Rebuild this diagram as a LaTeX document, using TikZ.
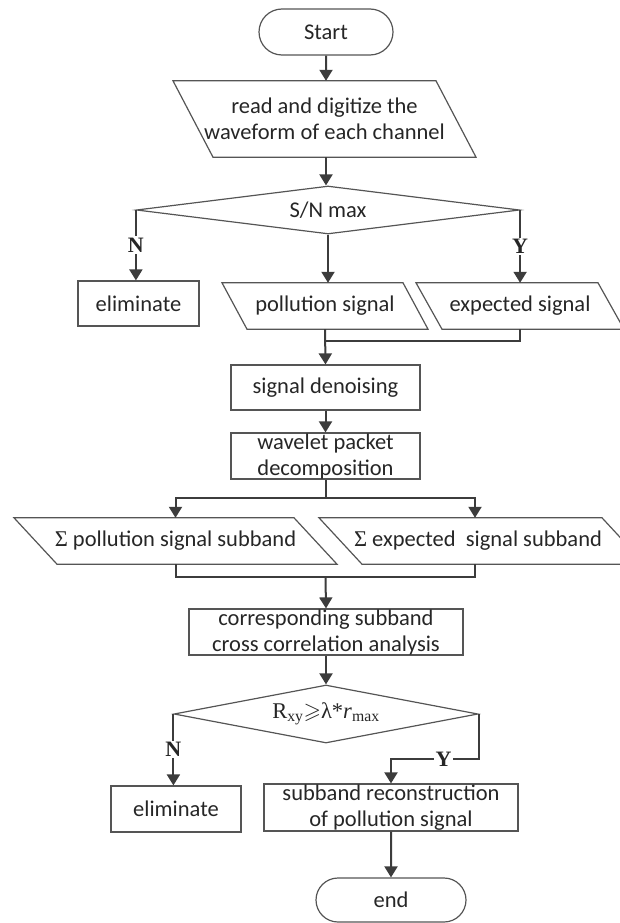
\documentclass[tikz,border=0pt]{standalone}
\usepackage{fontspec}
\usepackage{amssymb}
\setmainfont{Carlito}
\newfontfamily\tnr{Liberation Serif}
\usetikzlibrary{shapes.geometric,shapes.misc,arrows.meta,calc}
\definecolor{boxgray}{HTML}{555555}
\definecolor{linegray}{HTML}{3C3C3C}

\begin{document}
\begin{tikzpicture}[x=1pt, y=-1pt, >={Triangle[width=13pt,length=11pt]},
    font=\fontsize{22.5}{26}\selectfont, text=black!85,
    box line/.style={draw=boxgray, line width=1.2pt},
    box/.style={rectangle, box line, minimum height=46pt, align=center, inner sep=0pt},
    term/.style={rounded rectangle, box line, minimum height=46pt, inner sep=0pt},
    io/.style 2 args={rectangle, inner sep=0pt, minimum height=46pt, align=center,
      append after command={\pgfextra{\let\ionode\tikzlastnode
        \draw[box line] ($(\ionode.north)+(-#1-#2,0)$) -- ($(\ionode.north)+(#1,0)$)
          -- ($(\ionode.south)+(#1+#2,0)$) -- ($(\ionode.south)+(-#1,0)$) -- cycle;}}},
    test/.style={diamond, box line, inner sep=0pt},
    flow/.style={draw=linegray, line width=2pt},
    yn/.style={fill=white, inner sep=1.5pt, font=\tnr\bfseries\fontsize{22}{22}\selectfont}]
    \useasboundingbox (0,0) rectangle (619,923);
    \node[term, minimum width=134pt] (start) at (326,32) {Start};
    \node[io={111.5}{40}, minimum height=76pt] (read) at (324.5,119)
      {read and digitize the\\waveform of each channel};
    \node[test, minimum width=383pt, minimum height=48pt, aspect=8] (snr) at (328,210) {S/N max};
    \node[box, minimum width=121pt, minimum height=45pt] (elim) at (138.5,303.5) {eliminate};
    \node[io={78}{25}] (pol) at (325,306) {pollution signal};
    \node[io={78}{26}] (exp) at (520,306) {expected signal};
    \node[box, minimum width=189pt, minimum height=45pt] (den) at (325.5,387.5) {signal denoising};
    \node[box, minimum width=189pt] (wpd) at (325.5,456) {wavelet packet\\decomposition};
    \node[io={118.5}{43}] (spol) at (175.5,541) {{\tnr Σ} pollution signal subband};
    \node[io={120}{43}] (sexp) at (482,541) {{\tnr Σ} expected\ \ signal subband\hspace*{8pt}};
    \node[box, minimum width=274pt] (cor) at (326,632) {corresponding subband\\cross correlation analysis};
    \node[test, minimum width=304pt, minimum height=58pt, aspect=5.2] (rxy) at (326,714)
      {\tnr R\textsubscript{xy}$\geqslant$λ*\textit{r}\textsubscript{max}};
    \node[box, minimum width=130pt] (elim2) at (176,809) {eliminate};
    \node[box, minimum width=254pt, minimum height=47pt] (rec) at (391,807.5)
      {subband reconstruction\\of pollution signal};
    \node[term, minimum width=150pt, minimum height=44pt] (end) at (391,900) {end};
    \draw[flow,->] (start) -- (start |- read.north);
    \draw[flow,->] (start |- read.south) -- (start |- snr.north);
    \draw[flow,->] (snr.west) -- node[yn]{N} (snr.west |- elim.north);
    \draw[flow,->] (snr.south) -- (snr.south |- pol.north);
    \draw[flow,->] (snr.east) -- node[yn]{Y} (snr.east |- exp.north);
    \coordinate (m1) at ($(pol.south)+(0,12)$);
    \draw[flow] (snr.east |- exp.south) |- (m1);
    \draw[flow,->] (pol.south) -- (den.north);
    \draw[flow,->] (den) -- (wpd);
    \coordinate (m2) at ($(wpd.south)+(0,18)$);
    \draw[flow] (wpd.south) -- (m2);
    \draw[flow,->] (m2) -| (spol.north);
    \draw[flow,->] (m2) -| ([xshift=-7pt]sexp.north);
    \coordinate (m3) at ($(wpd.south |- spol.south)+(0,13)$);
    \draw[flow] (spol.south) |- (m3) -| ([xshift=-7pt]sexp.south);
    \draw[flow,->] (m3) -- (cor.north);
    \draw[flow,->] (cor) -- (rxy);
    \draw[flow,->] (rxy.west) -- node[yn]{N} (rxy.west |- elim2.north);
    \coordinate (m4) at ($(rec.north)+(0,-24)$);
    \draw[flow,->] (rxy.east) |- node[yn, pos=0.7]{Y} (m4) -- (rec.north);
    \draw[flow,->] (rec) -- (end);
\end{tikzpicture}
\end{document}
